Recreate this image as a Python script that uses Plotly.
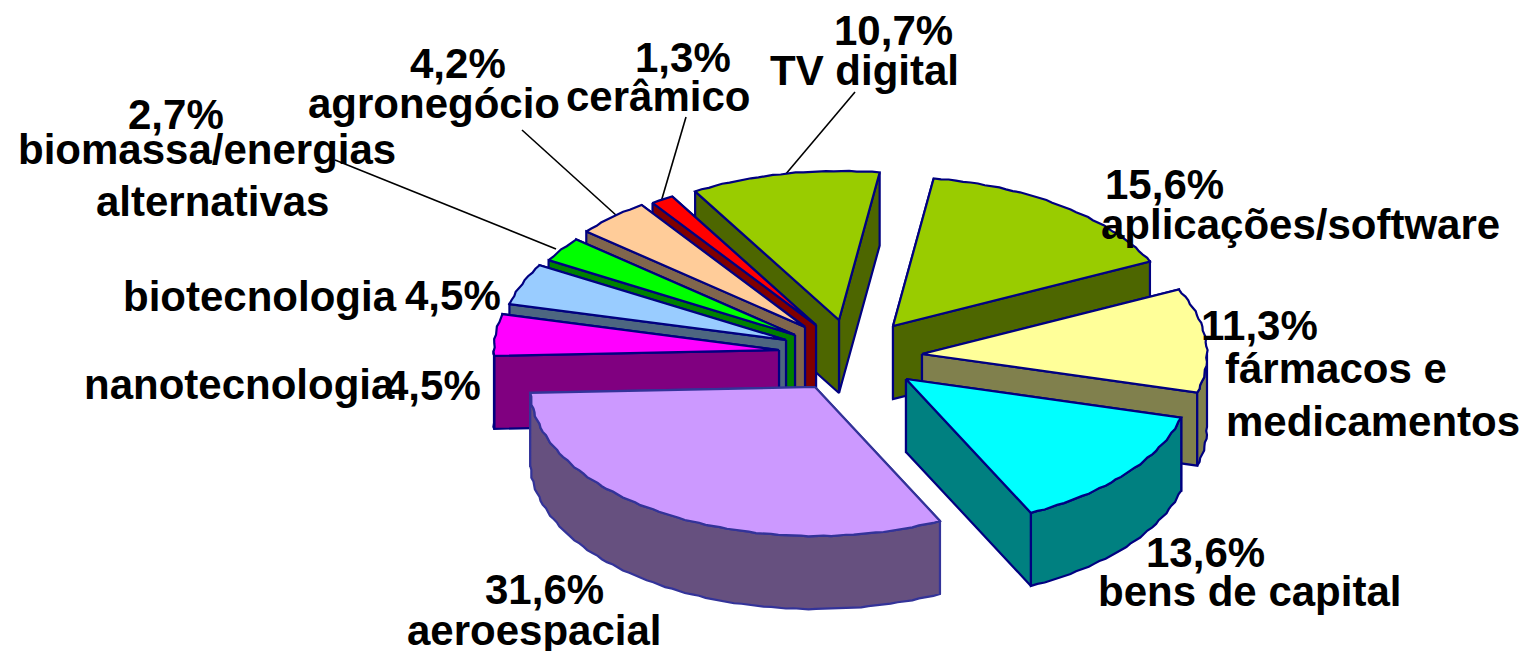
import math
import plotly.graph_objects as go

# --- data ---
categories = ["aplicações/software", "fármacos e medicamentos", "bens de capital", "aeroespacial",
              "nanotecnologia", "biotecnologia", "biomassa/energias alternativas", "agronegócio",
              "cerâmico", "TV digital"]
values = [15.6, 11.3, 13.6, 31.6, 4.5, 4.5, 2.7, 4.2, 1.3, 10.7]

# --- styling of the slices ---
top_colors = ["#99CC00", "#FFFF99", "#00FFFF", "#CC99FF", "#FF00FF", "#99CCFF", "#00FF00", "#FFCC99", "#FF0000", "#99CC00"]
wall_colors = ["#4D6600", "#80804D", "#008080", "#66507F", "#800080", "#4D6680", "#008000", "#80664D", "#800000", "#4D6600"]
edge_colors = ["#000080"] * 3 + ["#333399"] + ["#000080"] * 6
apex_x = [893, 922, 906, 815, 779, 786, 795, 805, 816, 839]
apex_y = [326, 354, 379, 387, 350, 340, 335, 327, 325, 320]
draw_order = [9, 8, 7, 6, 5, 4, 0, 1, 2, 3]

START_DEG = 8.2
RX, RY, DEPTH = 285, 149, 73

# --- label texts and their places ---
label_text = ["10,7%", "TV digital", "15,6%", "aplicações/software", "11,3%", "fármacos e", "medicamentos",
              "13,6%", "bens de capital", "31,6%", "aeroespacial", "nanotecnologia", "4,5%",
              "biotecnologia", "4,5%", "2,7%", "biomassa/energias", "alternativas", "4,2%", "agronegócio",
              "1,3%", "cerâmico"]
label_x = [893, 864, 1164, 1300, 1259, 1336, 1373, 1205, 1249, 544, 534, 239, 433, 260, 453, 176, 207, 212, 458, 434, 683, 658]
label_y = [30, 70, 184, 224, 325, 368, 421, 552, 591, 589, 630, 384, 385, 296, 295, 114, 149, 201, 63, 103, 57, 96]
leaders = [((855, 92), (785, 175)), ((686, 117), (661, 202)), ((522, 130), (617, 216)), ((335, 160), (556, 249))]

fig = go.Figure()


def poly(xs, ys, fill, edge, width=2.2):
    fig.add_trace(go.Scatter(x=xs, y=ys, mode="lines", fill="toself", fillcolor=fill,
                             line=dict(color=edge, width=width), hoverinfo="skip", showlegend=False))


for (a, b) in leaders:
    fig.add_trace(go.Scatter(x=[a[0], b[0]], y=[a[1], b[1]], mode="lines",
                             line=dict(color="black", width=1.6), hoverinfo="skip", showlegend=False))

total = sum(values)
bounds = [START_DEG]
for v in values:
    bounds.append(bounds[-1] + v / total * 360)


def rim(cx, cy, t0, t1):
    n = max(3, int((t1 - t0) / 1.5))
    xs, ys = [], []
    for i in range(n + 1):
        t = t0 + (t1 - t0) * i / n
        # the reference's outer edge is slightly scalloped
        w = 1 + (0.0025 * math.sin(math.radians(t) * 70) if 0 < i < n else 0)
        xs.append(cx + RX * w * math.sin(math.radians(t)))
        ys.append(cy - RY * w * math.cos(math.radians(t)))
    return xs, ys


for k in draw_order:
    t0, t1 = bounds[k], bounds[k + 1]
    cx, cy = apex_x[k], apex_y[k]
    xs, ys = rim(cx, cy, t0, t1)
    col, wall, edge = top_colors[k], wall_colors[k], edge_colors[k]
    # radial walls, the one nearer the viewer last
    start_wall = ([cx, xs[0], xs[0], cx, cx], [cy, ys[0], ys[0] + DEPTH, cy + DEPTH, cy])
    end_wall = ([cx, xs[-1], xs[-1], cx, cx], [cy, ys[-1], ys[-1] + DEPTH, cy + DEPTH, cy])
    walls = [end_wall, start_wall] if (t0 + t1) / 2 > 180 else [start_wall, end_wall]
    for wx, wy in walls:
        poly(wx, wy, wall, edge)
    # outer wall, only where it faces the viewer
    lo, hi = max(t0, 90), min(t1, 270)
    if hi > lo:
        fx, fy = rim(cx, cy, lo, hi)
        poly(fx + fx[::-1] + [fx[0]], fy + [y + DEPTH for y in fy[::-1]] + [fy[0]], wall, edge)
    # top face
    poly([cx] + xs + [cx], [cy] + ys + [cy], col, edge)

for t, x, y in zip(label_text, label_x, label_y):
    fig.add_annotation(x=x, y=y, text="<b>%s</b>" % t, showarrow=False, xanchor="center", yanchor="middle",
                       font=dict(family="Liberation Sans, Arial, sans-serif", size=42, color="black"))

# the page has an 8 px body margin, so the plot area starts at pixel 8
fig.update_xaxes(range=[8, 1532], visible=False, fixedrange=True)
fig.update_yaxes(range=[651, 8], visible=False, fixedrange=True)
fig.update_layout(width=1524, height=643, margin=dict(l=0, r=0, t=0, b=0),
                  paper_bgcolor="white", plot_bgcolor="white", showlegend=False)
fig.write_html("out.html", config=dict(displayModeBar=False))
